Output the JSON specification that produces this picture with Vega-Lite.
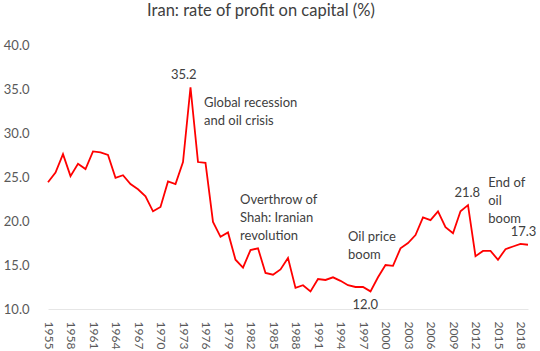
{
  "$schema": "https://vega.github.io/schema/vega-lite/v6.json",
  "width": 480,
  "height": 264,
  "autosize": {"type": "none"},
  "padding": {"left": 48, "top": 45, "right": 12, "bottom": 42},
  "background": "white",
  "config": {"view": {"stroke": null}, "font": "Lato", "axis": {"labelOverlap": false}, "axisX": {"labelOverlap": false}},
  "title": {"text": "Iran: rate of profit on capital (%)", "fontSize": 16.5, "fontWeight": "normal", "color": "#404040", "font": "Lato", "offset": 20, "dx": -27},
  "datasets": {
    "series": [
      {"year": 1955, "value": 24.4}, {"year": 1956, "value": 25.5}, {"year": 1957, "value": 27.6},
      {"year": 1958, "value": 25.1}, {"year": 1959, "value": 26.5}, {"year": 1960, "value": 25.9},
      {"year": 1961, "value": 27.9}, {"year": 1962, "value": 27.8}, {"year": 1963, "value": 27.5},
      {"year": 1964, "value": 24.9}, {"year": 1965, "value": 25.2}, {"year": 1966, "value": 24.2},
      {"year": 1967, "value": 23.6}, {"year": 1968, "value": 22.8}, {"year": 1969, "value": 21.1},
      {"year": 1970, "value": 21.6}, {"year": 1971, "value": 24.5}, {"year": 1972, "value": 24.2},
      {"year": 1973, "value": 26.7}, {"year": 1974, "value": 35.2}, {"year": 1975, "value": 26.7},
      {"year": 1976, "value": 26.6}, {"year": 1977, "value": 19.9}, {"year": 1978, "value": 18.2},
      {"year": 1979, "value": 18.7}, {"year": 1980, "value": 15.6}, {"year": 1981, "value": 14.7},
      {"year": 1982, "value": 16.7}, {"year": 1983, "value": 16.9}, {"year": 1984, "value": 14.1},
      {"year": 1985, "value": 13.9}, {"year": 1986, "value": 14.5}, {"year": 1987, "value": 15.8},
      {"year": 1988, "value": 12.4}, {"year": 1989, "value": 12.7}, {"year": 1990, "value": 12.0},
      {"year": 1991, "value": 13.4}, {"year": 1992, "value": 13.3}, {"year": 1993, "value": 13.6},
      {"year": 1994, "value": 13.2}, {"year": 1995, "value": 12.7}, {"year": 1996, "value": 12.5},
      {"year": 1997, "value": 12.5}, {"year": 1998, "value": 12.0}, {"year": 1999, "value": 13.6},
      {"year": 2000, "value": 15.0}, {"year": 2001, "value": 14.9}, {"year": 2002, "value": 16.9},
      {"year": 2003, "value": 17.5}, {"year": 2004, "value": 18.4}, {"year": 2005, "value": 20.4},
      {"year": 2006, "value": 20.1}, {"year": 2007, "value": 21.1}, {"year": 2008, "value": 19.3},
      {"year": 2009, "value": 18.6}, {"year": 2010, "value": 21.1}, {"year": 2011, "value": 21.8},
      {"year": 2012, "value": 16.0}, {"year": 2013, "value": 16.6}, {"year": 2014, "value": 16.6},
      {"year": 2015, "value": 15.6}, {"year": 2016, "value": 16.8}, {"year": 2017, "value": 17.1},
      {"year": 2018, "value": 17.4}, {"year": 2019, "value": 17.3}
    ],
    "notes": [
      {"year": 1975.8, "value": 33.41, "label": "Global recession\nand oil crisis"},
      {"year": 1980.6, "value": 22.39, "label": "Overthrow of\nShah: Iranian\nrevolution"},
      {"year": 1995.0, "value": 18.18, "label": "Oil price\nboom"},
      {"year": 2013.7, "value": 24.32, "label": "End of\noil\nboom"}
    ],
    "numbers": [
      {"year": 1973.1, "value": 36.59, "label": "35.2"},
      {"year": 1997.3, "value": 10.45, "label": "12.0"},
      {"year": 2010.9, "value": 23.18, "label": "21.8"},
      {"year": 2018.4, "value": 18.75, "label": "17.3"}
    ]
  },
  "encoding": {
    "x": {"field": "year", "type": "quantitative", "scale": {"domain": [1955, 2019], "nice": false, "zero": false},
          "axis": {"values": [1955,1958,1961,1964,1967,1970,1973,1976,1979,1982,1985,1988,1991,1994,1997,2000,2003,2006,2009,2012,2015,2018],
                   "format": "d", "labelAngle": 90, "title": null, "grid": false, "ticks": false, "domainColor": "#e6e6e6",
                   "labelFontSize": 12, "labelColor": "#595959", "labelPadding": 12, "labelFont": "Lato", "labelOverlap": false, "labelFlush": false, "labelBound": false, "labelSeparation": 0}},
    "y": {"field": "value", "type": "quantitative", "scale": {"domain": [10, 40], "nice": false, "zero": false},
          "axis": {"values": [10,15,20,25,30,35,40], "format": ".1f", "title": null, "grid": false, "ticks": false, "domain": false,
                   "labelFontSize": 13, "labelColor": "#595959", "labelPadding": 19, "labelFont": "Lato"}}
  },
  "layer": [
    {
      "data": {"name": "series"},
      "mark": {"type": "line", "color": "#FF0000", "strokeWidth": 1.8}
    },
    {
      "data": {"name": "notes"},
      "mark": {"type": "text", "align": "left", "baseline": "middle", "lineBreak": "\n", "lineHeight": 18, "fontSize": 13, "color": "#404040", "font": "Lato"},
      "encoding": {"text": {"field": "label"}}
    },
    {
      "data": {"name": "numbers"},
      "mark": {"type": "text", "align": "center", "baseline": "middle", "fontSize": 13, "color": "#404040", "font": "Lato"},
      "encoding": {"text": {"field": "label"}}
    }
  ]
}
